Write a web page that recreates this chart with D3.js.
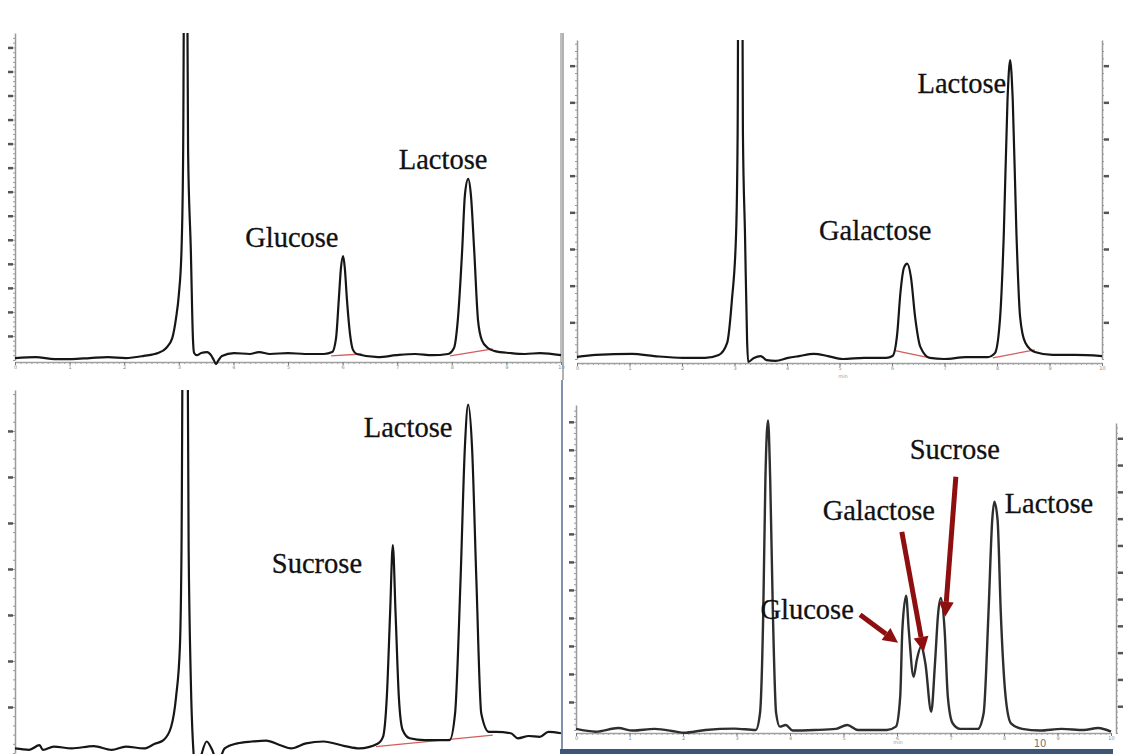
<!DOCTYPE html>
<html>
<head>
<meta charset="utf-8">
<script src="https://cdn.jsdelivr.net/npm/d3@7"></script>
<style>
  body { margin: 0; background: #fff; }
  svg { display: block; }
</style>
</head>
<body>
<svg id="chart" width="1131" height="754"></svg>
<script>
// ---- values: [retention time (min), detector signal (axis units)] ----

// top left: glucose + lactose
const traceA = [
  [0, 0.08], [0.38, 0.12], [0.73, 0.04], [1.04, 0.04], [1.37, 0.08], [1.70, 0.12], [2.03, 0.08],
  [2.36, 0.17], [2.62, 0.29], [2.77, 0.5], [2.88, 0.91], [2.95, 1.75], [3.0, 2.7], [3.05, 4.6],
  [3.08, 8.7], [3.12, 30], [3.17, 8.7], [3.22, 4.6], [3.26, 0.83], [3.28, 0.29], [3.33, 0.2],
  [3.41, 0.29], [3.52, 0.33], [3.59, 0.2], [3.64, 0], [3.68, -0.17], [3.72, -0.04], [3.79, 0.17],
  [4.01, 0.29], [4.3, 0.25], [4.47, 0.33], [4.67, 0.25], [5.0, 0.29], [5.31, 0.25], [5.66, 0.25],
  [5.81, 0.33], [5.88, 0.91], [5.93, 2.5], [5.97, 3.83], [6.01, 4.32], [6.04, 3.83], [6.08, 2.5],
  [6.14, 1.0], [6.19, 0.42], [6.26, 0.25], [6.65, 0.12], [6.98, 0.2], [7.33, 0.25], [7.64, 0.2],
  [7.93, 0.25], [8.04, 0.5], [8.11, 1.66], [8.19, 4.57], [8.24, 6.86], [8.30, 7.53], [8.35, 6.86],
  [8.41, 4.57], [8.48, 1.66], [8.55, 0.83], [8.66, 0.5], [8.79, 0.37], [9.07, 0.29], [9.34, 0.25],
  [9.62, 0.29], [10, 0.2]
];
const baselinesA = [[[5.79, 0.17], [6.35, 0.25]], [[7.97, 0.17], [8.75, 0.46]]];
const labelsA = [["Glucose", 5.07, 4.7], ["Lactose", 7.84, 7.95]];

// top right: galactose + lactose
const traceB = [
  [0, 0.06], [0.36, 0.11], [1.05, 0.14], [1.47, 0.08], [2.02, 0.03], [2.44, 0.03], [2.70, 0.11],
  [2.86, 0.44], [2.95, 1.6], [3.03, 3.4], [3.06, 6.2], [3.10, 30], [3.16, 6.2], [3.2, 3.4],
  [3.24, 0.5], [3.26, -0.08], [3.37, 0.03], [3.5, 0.08], [3.61, -0.03], [3.78, -0.05], [4.02, 0.03],
  [4.23, 0.08], [4.51, 0.14], [4.78, 0.08], [5.06, 0], [5.47, 0.03], [5.89, 0.03], [6.01, 0.08],
  [6.1, 0.7], [6.16, 1.8], [6.23, 2.5], [6.29, 2.6], [6.36, 2.24], [6.44, 1.15], [6.54, 0.33],
  [6.72, 0.03], [6.99, 0], [7.41, 0.05], [7.82, 0.05], [7.96, 0.16], [8.06, 1.15], [8.13, 3.43],
  [8.2, 7.06], [8.25, 8.15], [8.3, 7.06], [8.37, 3.43], [8.44, 1.15], [8.54, 0.44], [8.72, 0.19],
  [9.06, 0.11], [9.48, 0.11], [10, 0.08]
];
const baselinesB = [[[6.06, 0.23], [6.72, 0.03]], [[7.92, 0.03], [8.72, 0.25]]];
const labelsB = [["Galactose", 5.68, 3.24], ["Lactose", 7.33, 7.25]];

// bottom left: sucrose + lactose
const traceC = [
  [0, 0.1], [0.26, 0.07], [0.45, 0.17], [0.51, 0.07], [0.71, 0.14], [1.04, 0.1], [1.44, 0.15],
  [1.77, 0.07], [2.03, 0.14], [2.36, 0.1], [2.56, 0.2], [2.72, 0.28], [2.86, 0.57], [2.95, 1.22],
  [3.02, 2.31], [3.05, 4.48], [3.11, 20], [3.18, 4.48], [3.22, 1.59], [3.27, 0], [3.3, -0.3],
  [3.38, -0.15], [3.51, 0.25], [3.61, 0.07], [3.71, -0.22], [3.84, 0.1], [4.07, 0.21], [4.34, 0.25],
  [4.6, 0.27], [4.86, 0.17], [5.06, 0.1], [5.33, 0.21], [5.65, 0.25], [6.04, 0.15], [6.31, 0.1],
  [6.64, 0.2], [6.74, 0.35], [6.81, 1.22], [6.87, 3.04], [6.92, 4.52], [6.97, 3.04], [7.03, 1.22],
  [7.1, 0.5], [7.23, 0.32], [7.5, 0.28], [7.96, 0.28], [8.06, 0.86], [8.16, 3.76], [8.24, 6.66],
  [8.3, 7.57], [8.37, 6.66], [8.45, 3.76], [8.54, 0.86], [8.68, 0.46], [8.81, 0.46], [9.08, 0.43],
  [9.21, 0.32], [9.41, 0.37], [9.61, 0.35], [9.77, 0.46], [10, 0.43]
];
const baselinesC = [[[6.61, 0.14], [8.75, 0.39]]];
const labelsC = [["Sucrose", 5.53, 3.91], ["Lactose", 7.2, 6.87]];

// bottom right: mixture of all four
const traceD = [
  [0, 0.04], [0.37, -0.06], [0.79, 0.07], [1.06, -0.02], [1.47, 0.04], [1.87, -0.06], [2.01, -0.1],
  [2.42, 0], [2.96, 0.05], [3.36, 0], [3.44, 0.61], [3.5, 4.18], [3.54, 8.93], [3.59, 11.05],
  [3.63, 8.93], [3.68, 4.18], [3.74, 0.61], [3.81, 0.12], [3.92, 0.18], [4.05, -0.02], [4.46, 0],
  [4.86, 0.04], [5.07, 0.18], [5.27, 0], [5.81, 0], [5.98, 0.12], [6.06, 1.19], [6.1, 3.57],
  [6.17, 4.79], [6.22, 3.57], [6.31, 1.9], [6.37, 2.5], [6.45, 2.98], [6.53, 2.38], [6.64, 0.65],
  [6.71, 2.38], [6.77, 4.18], [6.82, 4.71], [6.89, 3.57], [6.95, 1.19], [7.04, 0.24], [7.18, 0.04],
  [7.51, 0.04], [7.62, 0.61], [7.71, 4.18], [7.78, 7.5], [7.82, 8.15], [7.88, 7.5], [7.94, 4.18],
  [8.03, 1.19], [8.13, 0.24], [8.34, 0.04], [8.67, -0.02], [9.08, 0.04], [9.49, 0], [9.76, 0.07],
  [10, -0.06]
];
const labelsD = [["Sucrose", 7.08, 9.68], ["Galactose", 5.66, 7.5], ["Glucose", 4.32, 3.96], ["Lactose", 8.84, 7.75]];
// arrows: [from time, from signal, to time, to signal]
const arrowsD = [[5.31, 4.11, 6.02, 3.11], [6.09, 7.07, 6.5, 2.79], [7.1, 9.04, 6.9, 4.04]];

const xTicks = [0, 1, 2, 3, 4, 5, 6, 7, 8, 9, 10];

// ---- layout ----
const svg = d3.select("#chart");

const panels = [
  { id: "a", trace: traceA, baselines: baselinesA, labels: labelsA, arrows: [],
    xr: [15, 561], yr: [360, 33], ytop: 13.6, yTickN: 13, xAxisY: 362, lineW: 2.2,
    rightAxis: null, rightBorder: 561 },
  { id: "b", trace: traceB, baselines: baselinesB, labels: labelsB, arrows: [],
    xr: [577, 1102], yr: [359, 40], ytop: 8.7, yTickN: 8, xAxisY: 363, lineW: 2.2,
    rightAxis: { x: 1102, yr: [359, 40], top: 8.7, n: 8 } },
  { id: "c", trace: traceC, baselines: baselinesC, labels: labelsC, arrows: [],
    xr: [15, 561], yr: [753, 390], ytop: 7.89, yTickN: 7, xAxisY: null, lineW: 2.2,
    rightAxis: null },
  { id: "d", trace: traceD, baselines: [], labels: labelsD, arrows: arrowsD,
    xr: [576, 1111], yr: [730, 405], ytop: 11.6, yTickN: 11, xAxisY: 733, lineW: 2.4,
    rightAxis: { x: 1116, yr: [733, 423], top: 11.57, n: 11 } }
];

// frame lines between the screenshots
svg.append("line").attr("x1", 563).attr("x2", 563).attr("y1", 33).attr("y2", 380)
  .attr("stroke", "#999").attr("stroke-width", 1.5);
svg.append("line").attr("x1", 562).attr("x2", 562).attr("y1", 380).attr("y2", 754)
  .attr("stroke", "#7f93ab").attr("stroke-width", 2);

function styleAxis(g, color) {
  g.select(".domain").attr("stroke", color).attr("stroke-width", 1.5);
  g.selectAll(".tick line").attr("stroke", color);
}

panels.forEach(p => {
  const g = svg.append("g").attr("class", "panel-" + p.id);
  const x = d3.scaleLinear().domain([0, 10]).range(p.xr);
  const y = d3.scaleLinear().domain([0, p.ytop]).range(p.yr);

  // y axis: fine minor ticks + heavy major ticks
  const yMinor = d3.range(0, p.ytop, 0.2);
  g.append("g").attr("transform", `translate(${p.xr[0]},0)`)
    .call(d3.axisLeft(y).tickValues(yMinor).tickSize(2).tickFormat("").tickSizeOuter(0))
    .call(a => styleAxis(a, "#9a9a9a"));
  g.append("g").attr("transform", `translate(${p.xr[0]},0)`)
    .call(d3.axisLeft(y).tickValues(d3.range(1, p.yTickN + 1)).tickSize(6).tickFormat("").tickSizeOuter(0))
    .call(a => { a.select(".domain").remove(); a.selectAll(".tick line").attr("stroke", "#555").attr("stroke-width", 2.5).attr("x2", -2).attr("x1", -7); });

  if (p.rightAxis) {
    const r = p.rightAxis;
    const yr = d3.scaleLinear().domain([0, r.top]).range(r.yr);
    g.append("g").attr("transform", `translate(${r.x},0)`)
      .call(d3.axisRight(yr).tickValues(d3.range(0, r.top, 0.2)).tickSize(2).tickFormat("").tickSizeOuter(0))
      .call(a => styleAxis(a, "#9a9a9a"));
    g.append("g").attr("transform", `translate(${r.x},0)`)
      .call(d3.axisRight(yr).tickValues(d3.range(1, r.n + 1)).tickSize(6).tickFormat("").tickSizeOuter(0))
      .call(a => { a.select(".domain").remove(); a.selectAll(".tick line").attr("stroke", "#555").attr("stroke-width", 2.5).attr("x1", 2).attr("x2", 7); });
  }
  if (p.rightBorder) {
    g.append("line").attr("x1", p.rightBorder).attr("x2", p.rightBorder)
      .attr("y1", p.yr[1]).attr("y2", p.xAxisY).attr("stroke", "#aaa").attr("stroke-width", 1.5);
  }

  // x axis along the bottom
  if (p.xAxisY) {
    g.append("g").attr("transform", `translate(0,${p.xAxisY})`)
      .call(d3.axisBottom(x).tickValues(d3.range(0, 100.5).map(i => i / 10)).tickSize(2).tickFormat("").tickSizeOuter(0))
      .call(a => styleAxis(a, "#a0a0a0"));
    g.append("g").attr("transform", `translate(0,${p.xAxisY})`)
      .call(d3.axisBottom(x).tickValues(xTicks).tickSize(3).tickFormat(d3.format("d")).tickSizeOuter(0))
      .call(a => {
        a.select(".domain").remove();
        a.selectAll(".tick line").attr("stroke", "#777");
        a.selectAll(".tick text").attr("fill", "#888").attr("font-size", 5).attr("dy", "0.2em")
          .attr("font-family", "DejaVu Sans");
      });
  }

  // clip so off-scale solvent peaks run out of the top
  g.append("clipPath").attr("id", "clip-" + p.id)
    .append("rect").attr("x", p.xr[0]).attr("y", p.yr[1])
    .attr("width", p.xr[1] - p.xr[0] + 1).attr("height", 760 - p.yr[1]);

  const line = d3.line().x(d => x(d[0])).y(d => y(d[1])).curve(d3.curveMonotoneX);

  // integration baselines in red
  g.selectAll(".bl").data(p.baselines).join("path")
    .attr("d", d => d3.line().x(v => x(v[0])).y(v => y(v[1]))(d))
    .attr("fill", "none").attr("stroke", "#c9413f").attr("stroke-width", 1.3).attr("opacity", 0.85);

  g.append("path").datum(p.trace)
    .attr("clip-path", `url(#clip-${p.id})`)
    .attr("d", line)
    .attr("fill", "none")
    .attr("stroke", p.id === "d" ? "#2e2e2e" : "#161616")
    .attr("stroke-width", p.lineW)
    .attr("stroke-linejoin", "round");

  // peak names
  g.selectAll(".lbl").data(p.labels).join("text")
    .attr("x", d => x(d[1])).attr("y", d => y(d[2]))
    .attr("text-anchor", "middle")
    .attr("font-family", "Liberation Serif, Times New Roman, serif")
    .attr("font-size", 28.5)
    .attr("fill", "#111")
    .attr("stroke", "#111").attr("stroke-width", 0.3)
    .text(d => d[0]);

  // red arrows
  p.arrows.forEach(a => {
    const x0 = x(a[0]), y0 = y(a[1]), x1 = x(a[2]), y1 = y(a[3]);
    const ang = Math.atan2(y1 - y0, x1 - x0);
    const hl = 15, hw = 7.5;
    const bx = x1 - hl * Math.cos(ang), by = y1 - hl * Math.sin(ang);
    g.append("line").attr("x1", x0).attr("y1", y0).attr("x2", bx).attr("y2", by)
      .attr("stroke", "#8e0f0f").attr("stroke-width", 5);
    const px = -Math.sin(ang) * hw, py = Math.cos(ang) * hw;
    g.append("path")
      .attr("d", `M${x1},${y1}L${bx + px},${by + py}L${bx - px},${by - py}Z`)
      .attr("fill", "#8e0f0f");
  });
});

// tiny axis captions and the bottom strip
svg.append("text").attr("x", 843).attr("y", 378).attr("text-anchor", "middle")
  .attr("font-size", 5).attr("fill", "#999").attr("font-family", "DejaVu Sans").text("min");
svg.append("text").attr("x", 898).attr("y", 744).attr("text-anchor", "middle")
  .attr("font-size", 5).attr("fill", "#999").attr("font-family", "DejaVu Sans").text("min");
svg.append("text").attr("x", 1040).attr("y", 747).attr("text-anchor", "middle")
  .attr("font-size", 10).attr("fill", "#777").attr("font-family", "DejaVu Sans").text("10");
svg.append("rect").attr("x", 560).attr("y", 749).attr("width", 553).attr("height", 5)
  .attr("fill", "#3b5676");
</script>
</body>
</html>
